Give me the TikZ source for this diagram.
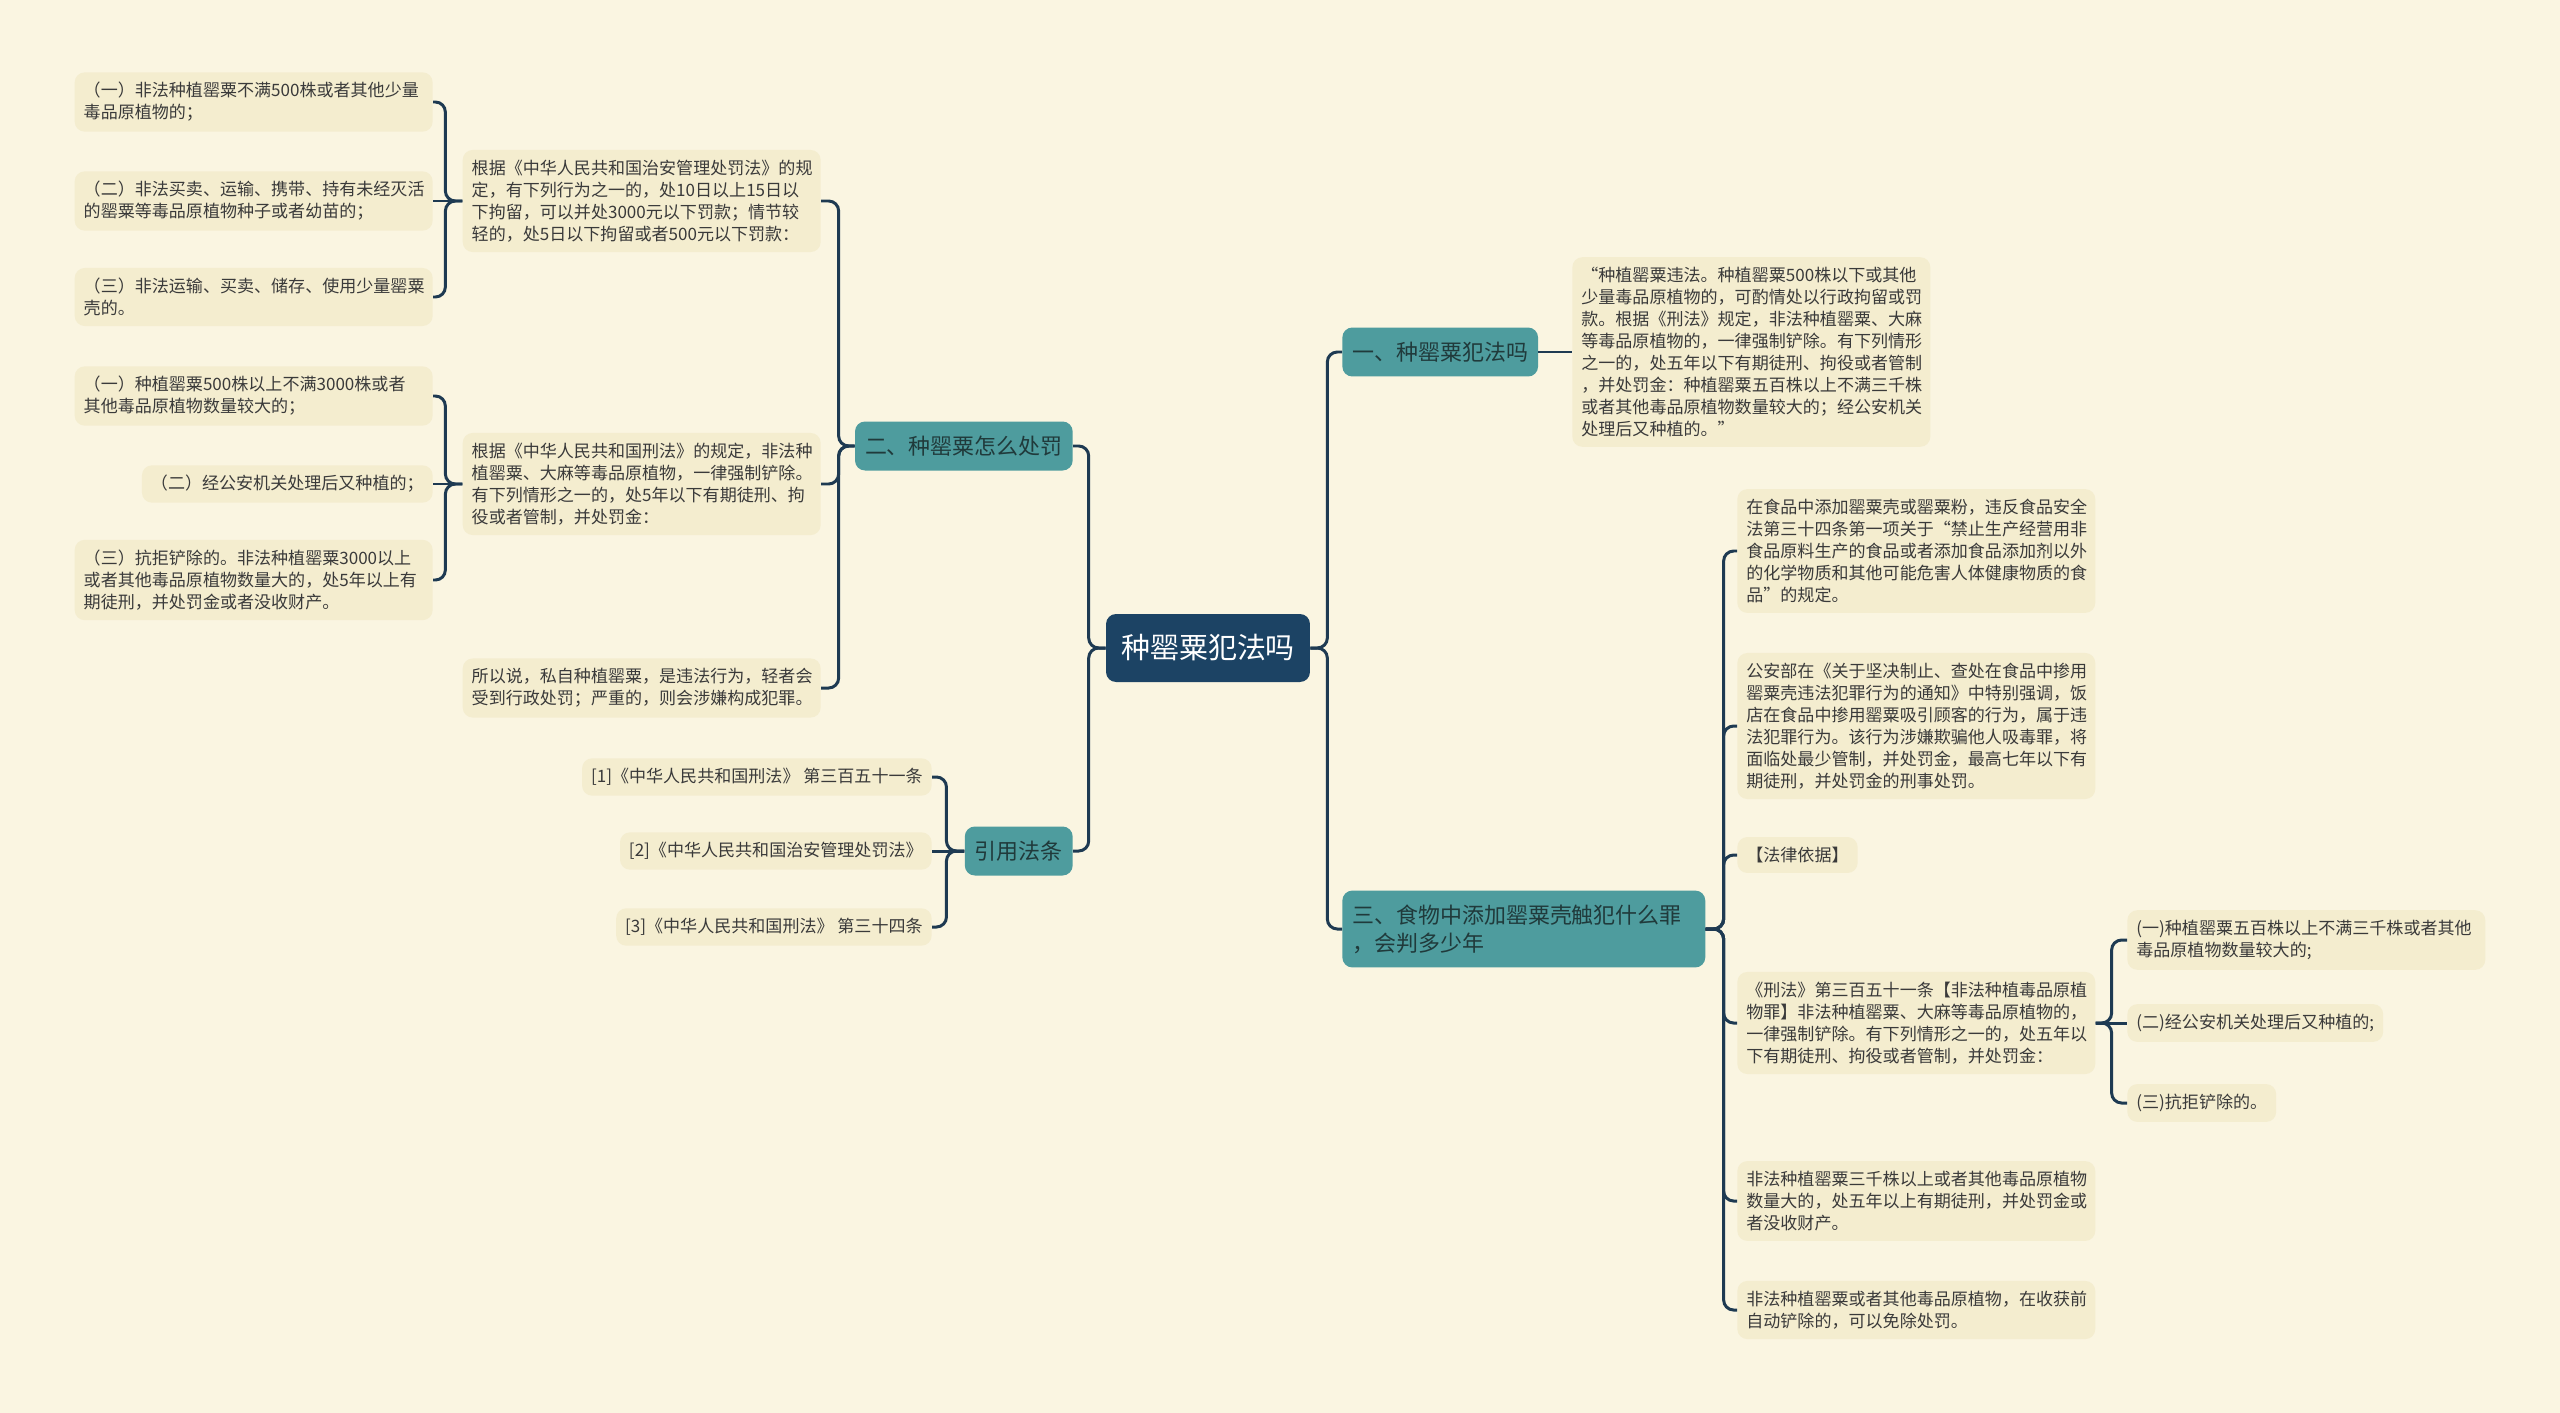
\documentclass[tikz,border=0pt]{standalone}
\usepackage{fontspec}
\setmainfont{Noto Sans CJK SC}
\definecolor{paper}{HTML}{FAF5E1}
\definecolor{leaffill}{HTML}{F4EDCF}
\definecolor{branchteal}{HTML}{4E9C9E}
\definecolor{rootblue}{HTML}{1C4364}
\definecolor{linkblue}{HTML}{1E3A52}
\definecolor{leaftext}{HTML}{3A3A3A}
\definecolor{branchtext}{HTML}{203A3B}
\begin{document}
\begin{tikzpicture}[x=0.02cm, y=-0.02cm,
  every node/.style={font={\fontsize{9.7}{12.5}\selectfont}, text=leaftext},
  rootbox/.style={fill=rootblue, rounded corners=0.2cm, text=white, font={\fontsize{16.5}{20}\selectfont}, inner xsep=0.3cm, minimum height=1.36cm},
  branchbox/.style={fill=branchteal, rounded corners=0.2cm, text=branchtext, font={\fontsize{12.5}{15.9}\selectfont}, inner xsep=0.2cm, inner ysep=0.28cm, minimum height=0.98cm},
  leafbox/.style={fill=leaffill, rounded corners=0.2cm, inner xsep=0.18cm, inner ysep=0.2cm},
  notebox/.style={leafbox, text width=6.8cm, align=left},
  link/.style={draw=linkblue, line width=1.7pt, rounded corners=0.2cm}]
  \useasboundingbox (0,0) rectangle (2560,1413);
  \fill[paper] (0,0) rectangle (2560,1413);

  \node[rootbox] (root) at (1208,648) {种罂粟犯法吗};

  \node[branchbox, anchor=east] (punish) at (1073,446) {二、种罂粟怎么处罚};
  \node[branchbox, anchor=east] (refs) at (1073,851) {引用法条};
  \node[branchbox, anchor=west] (crime) at (1342,352) {一、种罂粟犯法吗};
  \node[branchbox, anchor=west, text width=6.86cm, align=left] (food) at (1342,929)
    {三、食物中添加罂粟壳触犯什么罪\\，会判多少年};

  % left side
  \node[notebox, anchor=east] (admin) at (821,201)
    {根据《中华人民共和国治安管理处罚法》的规\\定，有下列行为之一的，处10日以上15日以\\下拘留，可以并处3000元以下罚款；情节较\\轻的，处5日以下拘留或者500元以下罚款：};
  \node[notebox, anchor=east] (crimlaw) at (821,484)
    {根据《中华人民共和国刑法》的规定，非法种\\植罂粟、大麻等毒品原植物，一律强制铲除。\\有下列情形之一的，处5年以下有期徒刑、拘\\役或者管制，并处罚金：};
  \node[notebox, anchor=east] (sumup) at (821,688)
    {所以说，私自种植罂粟，是违法行为，轻者会\\受到行政处罚；严重的，则会涉嫌构成犯罪。};

  \node[notebox, anchor=east] (adminA) at (433,102)
    {（一）非法种植罂粟不满500株或者其他少量\\毒品原植物的；};
  \node[notebox, anchor=east] (adminB) at (433,201)
    {（二）非法买卖、运输、携带、持有未经灭活\\的罂粟等毒品原植物种子或者幼苗的；};
  \node[notebox, anchor=east] (adminC) at (433,297)
    {（三）非法运输、买卖、储存、使用少量罂粟\\壳的。};

  \node[notebox, anchor=east] (crimlawA) at (433,396)
    {（一）种植罂粟500株以上不满3000株或者\\其他毒品原植物数量较大的；};
  \node[leafbox, anchor=east] (crimlawB) at (433,484) {（二）经公安机关处理后又种植的；};
  \node[notebox, anchor=east] (crimlawC) at (433,580)
    {（三）抗拒铲除的。非法种植罂粟3000以上\\或者其他毒品原植物数量大的，处5年以上有\\期徒刑，并处罚金或者没收财产。};

  \node[leafbox, anchor=east] (ref1) at (932,777) {[1]《中华人民共和国刑法》 第三百五十一条};
  \node[leafbox, anchor=east] (ref2) at (932,851) {[2]《中华人民共和国治安管理处罚法》};
  \node[leafbox, anchor=east] (ref3) at (932,927) {[3]《中华人民共和国刑法》 第三十四条};

  % right side
  \node[notebox, anchor=west] (crimenote) at (1572,352)
    {“种植罂粟违法。种植罂粟500株以下或其他\\少量毒品原植物的，可酌情处以行政拘留或罚\\款。根据《刑法》规定，非法种植罂粟、大麻\\等毒品原植物的，一律强制铲除。有下列情形\\之一的，处五年以下有期徒刑、拘役或者管制\\，并处罚金：种植罂粟五百株以上不满三千株\\或者其他毒品原植物数量较大的；经公安机关\\处理后又种植的。”};

  \node[notebox, anchor=west] (additive) at (1737,551)
    {在食品中添加罂粟壳或罂粟粉，违反食品安全\\法第三十四条第一项关于“禁止生产经营用非\\食品原料生产的食品或者添加食品添加剂以外\\的化学物质和其他可能危害人体健康物质的食\\品”的规定。};
  \node[notebox, anchor=west] (police) at (1737,726)
    {公安部在《关于坚决制止、查处在食品中掺用\\罂粟壳违法犯罪行为的通知》中特别强调，饭\\店在食品中掺用罂粟吸引顾客的行为，属于违\\法犯罪行为。该行为涉嫌欺骗他人吸毒罪，将\\面临处最少管制，并处罚金，最高七年以下有\\期徒刑，并处罚金的刑事处罚。};
  \node[leafbox, anchor=west] (basis) at (1737,855) {【法律依据】};
  \node[notebox, anchor=west] (article) at (1737,1023)
    {《刑法》第三百五十一条【非法种植毒品原植\\物罪】非法种植罂粟、大麻等毒品原植物的，\\一律强制铲除。有下列情形之一的，处五年以\\下有期徒刑、拘役或者管制，并处罚金：};
  \node[notebox, anchor=west] (large) at (1737,1201)
    {非法种植罂粟三千株以上或者其他毒品原植物\\数量大的，处五年以上有期徒刑，并处罚金或\\者没收财产。};
  \node[notebox, anchor=west] (exempt) at (1737,1310)
    {非法种植罂粟或者其他毒品原植物，在收获前\\自动铲除的，可以免除处罚。};

  \node[notebox, anchor=west] (articleA) at (2127,940)
    {(一)种植罂粟五百株以上不满三千株或者其他\\毒品原植物数量较大的;};
  \node[leafbox, anchor=west] (articleB) at (2127,1023) {(二)经公安机关处理后又种植的;};
  \node[leafbox, anchor=west] (articleC) at (2127,1103) {(三)抗拒铲除的。};

  % connectors
  \draw[link] (root.west) -- ++(-17,0) |- (punish.east);
  \draw[link] (root.west) -- ++(-17,0) |- (refs.east);
  \draw[link] (root.east) -- ++(17,0) |- (crime.west);
  \draw[link] (root.east) -- ++(17,0) |- (food.west);

  \draw[link] (punish.west) -- ++(-16,0) |- (admin.east);
  \draw[link] (punish.west) -- ++(-16,0) |- (crimlaw.east);
  \draw[link] (punish.west) -- ++(-16,0) |- (sumup.east);

  \draw[link] (admin.west) -- ++(-17,0) |- (adminA.east);
  \draw[link] (admin.west) -- (adminB.east);
  \draw[link] (admin.west) -- ++(-17,0) |- (adminC.east);

  \draw[link] (crimlaw.west) -- ++(-17,0) |- (crimlawA.east);
  \draw[link] (crimlaw.west) -- (crimlawB.east);
  \draw[link] (crimlaw.west) -- ++(-17,0) |- (crimlawC.east);

  \draw[link] (refs.west) -- ++(-18,0) |- (ref1.east);
  \draw[link] (refs.west) -- (ref2.east);
  \draw[link] (refs.west) -- ++(-18,0) |- (ref3.east);

  \draw[link] (crime.east) -- (crimenote.west);

  \draw[link] (food.east) -- ++(18,0) |- (additive.west);
  \draw[link] (food.east) -- ++(18,0) |- (police.west);
  \draw[link] (food.east) -- ++(18,0) |- (basis.west);
  \draw[link] (food.east) -- ++(18,0) |- (article.west);
  \draw[link] (food.east) -- ++(18,0) |- (large.west);
  \draw[link] (food.east) -- ++(18,0) |- (exempt.west);

  \draw[link] (article.east) -- ++(16,0) |- (articleA.west);
  \draw[link] (article.east) -- (articleB.west);
  \draw[link] (article.east) -- ++(16,0) |- (articleC.west);
\end{tikzpicture}
\end{document}
